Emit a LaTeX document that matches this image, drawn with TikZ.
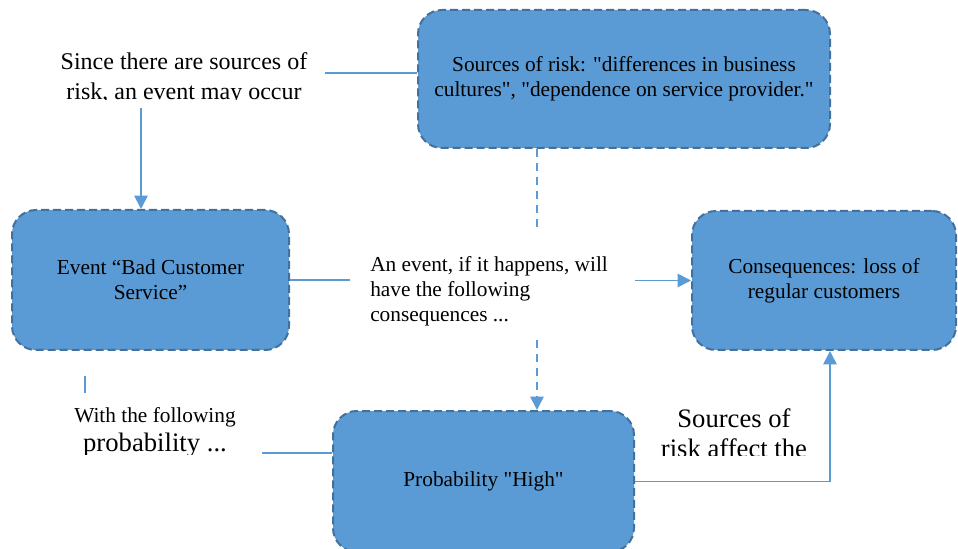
\documentclass[tikz,border=0pt]{standalone}
\usepackage{fontspec}
\setmainfont{Liberation Serif}
\usetikzlibrary{arrows.meta}
\definecolor{riskFill}{HTML}{5B9BD5}
\definecolor{riskEdge}{HTML}{41719C}
\definecolor{riskLine}{HTML}{5B9BD5}
% straight double quote, kept out of the TeX quote mapping
\newcommand{\strq}{{\XeTeXglyph\XeTeXcharglyph"22\relax}}

\begin{document}
\begin{tikzpicture}[
		x=0.75pt, y=-0.75pt,
		every node/.style={font=\fontsize{16}{18.75}\selectfont},
		box/.style={rounded corners=18pt, draw=riskEdge, line width=1.5pt, dash pattern=on 6pt off 3pt, fill=riskFill, align=center, inner sep=0pt},
		note/.style={align=center, inner sep=0pt},
		bignote/.style={note, font=\fontsize{20}{22.5}\selectfont},
		link/.style={draw=riskLine, line width=1.3pt},
		arrow/.style={link, -{Triangle[length=10pt, width=10pt]}},
		dashlink/.style={link, dash pattern=on 6pt off 4.5pt}
	]
		\useasboundingbox (0,0) rectangle (958,549);

		\node[box, minimum width=309pt, minimum height=103.5pt] (srcbox) at (624,79) {Sources of risk: \strq differences in business\\cultures\strq, \strq dependence on service  provider.\strq};
		\node[box, minimum width=207.75pt, minimum height=105pt] (evtbox) at (150.5,280) {Event “Bad Customer\\Service”};
		\node[box, minimum width=198pt, minimum height=104.25pt] (consbox) at (824,280.5) {Consequences: loss of\\regular customers};
		\node[box, minimum width=225.75pt, minimum height=105.75pt] (probbox) at (483.5,481.5) {Probability \strq High\strq};

		% texts, cut off at the bottom
		\begin{scope}
			\clip (30,30) rectangle (340,99.5);
			\node[note, font=\fontsize{18}{22.5}\selectfont] (occurtxt) at (184,78.5) {Since there are sources of\\risk, an event may occur};
		\end{scope}
		\begin{scope}
			\clip (40,395) rectangle (270,454);
			\node[note] (withtxt) at (155,432.7) {With the following\\[3pt]{\fontsize{20}{22.5}\selectfont probability ...}};
		\end{scope}
		\begin{scope}
			\clip (640,395) rectangle (820,455);
			\node[bignote] (affecttxt) at (734,433) {Sources of\\risk affect the};
		\end{scope}
		\node[note, align=left, anchor=west] (happtxt) at (370,291.5) {An event, if it happens, will\\have the following\\consequences ...};

		\coordinate (occurend) at (325,72.7);
		\coordinate (occurbot) at (141,108);
		\coordinate (evtend) at (350,280);
		\coordinate (consstart) at (635,280.5);
		\coordinate (dashtop) at (537,233);
		\coordinate (dashbot) at (537,340);
		\coordinate (ticktop) at (85,376);
		\coordinate (tickbot) at (85,393);
		\coordinate (probend) at (262,453);
		\coordinate (riseturn) at (830,481.5);

		\draw[link] (srcbox.west |- occurend) -- (occurend);
		\draw[arrow] (occurbot) -- (occurbot |- evtbox.north);
		\draw[link] (evtbox.east) -- (evtend);
		\draw[arrow] (consstart) -- (consbox.west);
		\draw[dashlink] (srcbox.south -| dashtop) -- (dashtop);
		\draw[dashlink, -{Triangle[length=10pt, width=10pt]}] (dashbot) -- (dashbot |- probbox.north);
		\draw[link] (ticktop) -- (tickbot);
		\draw[link] (probend) -- (probbox.west |- probend);
		\draw[arrow] (probbox.east) -- (riseturn) -- (riseturn |- consbox.south);
	\end{tikzpicture}
\end{document}
